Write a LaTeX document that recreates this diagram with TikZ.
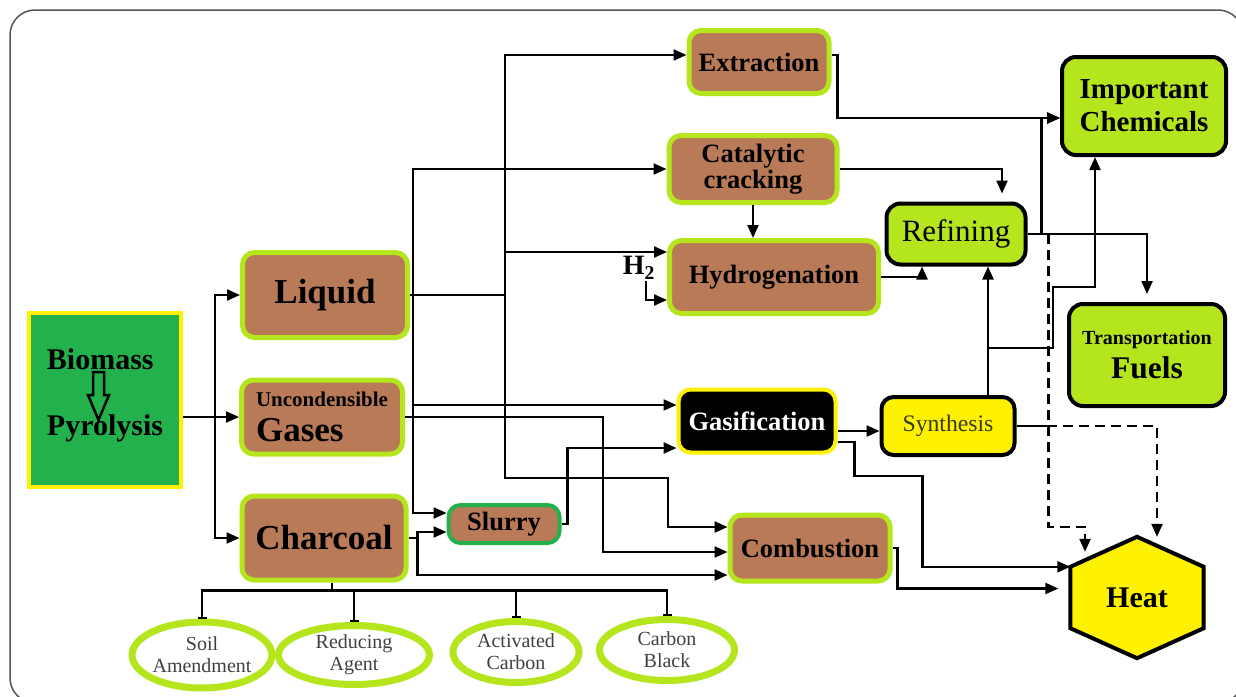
\documentclass[tikz,border=0pt]{standalone}
\usepackage{fontspec}
\setmainfont{Liberation Serif}
\usetikzlibrary{arrows.meta,shapes.geometric,backgrounds}

\definecolor{brownc}{HTML}{B97A57}
\definecolor{limec}{HTML}{B5E61D}
\definecolor{greenc}{HTML}{22B14C}
\definecolor{yellowc}{HTML}{FFF200}
\definecolor{framec}{HTML}{555555}
\definecolor{syntext}{HTML}{3A3A10}
\definecolor{usetext}{HTML}{404040}

\newcommand{\setfs}[1]{\fontsize{#1}{#1}\selectfont}

\tikzset{
  plainwire/.style={line width=2.2pt},
  wire/.style={line width=2.2pt, -{Triangle[length=13pt,width=11pt]}},
  dwire/.style={wire, dash pattern=on 10pt off 6pt},
  tee/.style={line width=2.2pt, -{Bar[width=9pt,line width=2pt]}},
  brownbox/.style={draw=limec, fill=brownc, line width=5pt, rounded corners=12pt,
    inner sep=0pt, align=center, font=\bfseries\setfs{#1}},
  limebox/.style={draw=black, fill=limec, line width=4pt, rounded corners=14pt,
    inner sep=0pt, align=center, font=\bfseries\setfs{#1}},
  procbox/.style={line width=4pt, rounded corners=12pt, inner sep=0pt, align=center},
  usebox/.style={ellipse, draw=limec, line width=7pt, inner sep=0pt, align=center,
    text=usetext, font=\fontsize{20}{22}\selectfont},
  hexa/.style={draw=black, fill=yellowc, line width=4pt, line join=miter},
}

\begin{document}
\begin{tikzpicture}[x=1pt, y=-1pt]
	% Boxes, texts and arrows:
	\useasboundingbox (0,0) rectangle (1236,696);
	\draw[framec, line width=1.5pt, rounded corners=25pt] (10,10) rectangle (1243,703);

	\node[draw=yellowc, fill=greenc, line width=4pt, minimum width=152pt, minimum height=174pt] (bio) at (105,400) {};
	\node[font=\bfseries\setfs{30}, align=left, inner sep=0pt] (biotxt) at (105,395) {Biomass\\[36pt]Pyrolysis};
	\draw[line width=2.5pt, line join=miter] (93,372) -- (104,372) -- (104,395) -- (109,395) -- (98.5,420) -- (88,395) -- (93,395) -- cycle;

	\node[brownbox=35, minimum width=165pt, minimum height=85pt] (liq) at (325,295) {Liquid};
	\node[brownbox=35, minimum width=161pt, minimum height=74pt, align=left] (gas) at (322,417) {{\setfs{21}Uncondensible}\\Gases};
	\node[brownbox=35, minimum width=164pt, minimum height=84pt] (char) at (324,538) {Charcoal};
	\node[brownbox=26.5, minimum width=140pt, minimum height=63pt] (extr) at (759,62) {Extraction};
	\node[brownbox=26.5, minimum width=168pt, minimum height=67pt] (cat) at (753,169) {Catalytic\\cracking};
	\node[brownbox=26.5, minimum width=209pt, minimum height=73pt] (hyd) at (774,277) {Hydrogenation};
	\node[brownbox=26.5, minimum width=160pt, minimum height=66pt] (comb) at (810,548) {Combustion};
	\node[brownbox=26.5, draw=greenc, line width=4pt, minimum width=111pt, minimum height=38pt] (slur) at (504,524) {Slurry};
	\node[limebox=31, font=\setfs{31}, minimum width=139pt, minimum height=61pt] (ref) at (956,234) {Refining};
	\node[limebox=29, minimum width=164pt, minimum height=98pt] (chem) at (1144,106) {Important\\[4pt]Chemicals};
	\node[limebox=31.5, minimum width=156pt, minimum height=102pt] (fuel) at (1147,355) {{\setfs{20}Transportation}\\[2.5pt]Fuels};
	\node[procbox, draw=yellowc, fill=black, text=white, font=\bfseries\setfs{26.5}, minimum width=157pt, minimum height=63pt] (gasf) at (757,421) {Gasification};
	\node[procbox, draw=black, fill=yellowc, text=syntext, font=\setfs{23.7}, minimum width=133pt, minimum height=58pt] (syn) at (948,426) {Synthesis};
	\node[font=\bfseries\setfs{30}, minimum width=133pt, minimum height=61pt, inner sep=0pt] (heat) at (1137,597.5) {Heat};
	\begin{scope}[on background layer]
		\filldraw[hexa] (heat.north west) -- ([yshift=30pt]heat.north) -- (heat.north east) -- (heat.south east) -- ([yshift=-30pt]heat.south) -- (heat.south west) -- cycle;
	\end{scope}
	\node[font=\bfseries\setfs{28}, inner sep=1pt] (htwo) at (639,268) {H\textsubscript{2}};

	\node[usebox, minimum width=133pt, minimum height=66pt] (soil) at (202,655) {Soil\\Amendment};
	\node[usebox, minimum width=151pt, minimum height=59pt] (redu) at (354,655) {Reducing\\Agent};
	\node[usebox, minimum width=126pt, minimum height=61pt] (actc) at (516,652) {Activated\\Carbon};
	\node[usebox, minimum width=135pt, minimum height=61pt] (cblk) at (667,650) {Carbon\\Black};

	\coordinate (split) at (215,417);
	\draw[plainwire] (bio.east |- gas) -- (split);
	\draw[wire] (split) -- (gas.west);
	\draw[wire] (split) |- (liq.west);
	\draw[wire] (split) |- (char.west);

	\draw[plainwire] (liq.east) -- ++(95,0) coordinate (lq2);
	\coordinate (lq1) at (413,295);
	\draw[wire] (lq1) |- (cat.west);
	\draw[wire] (lq1) |- ([yshift=16pt]gasf.west);
	\draw[wire] (lq1) |- ([yshift=11pt]slur.west);
	\draw[wire] (lq2) |- ([yshift=7pt]extr.west);
	\draw[wire] (lq2) |- ([yshift=25pt]hyd.west);
	\draw[wire] (lq2) |- (668,478) |- ([yshift=21pt]comb.west);

	\draw[wire] (gas.east) -- ++(198,0) |- ([yshift=-4pt]comb.west);

	\draw[plainwire] (char.east) -- ++(9,0) coordinate (cq);
	\draw[wire] (cq) |- ([yshift=-8pt]slur.west);
	\draw[wire] (cq) |- ([yshift=-27pt]comb.west);
	\draw[plainwire] ([xshift=8pt]char.south) -- ++(0,8) coordinate (cb);
	\draw[tee] (cb) -| (soil.north);
	\draw[tee] (cb) -| (redu.north);
	\draw[tee] (cb) -| (actc.north);
	\draw[tee] (cb) -| (cblk.north);

	\draw[wire] (slur.east) -- ++(6,0) |- ([yshift=-27pt]gasf.west);

	\draw[wire] ([yshift=7pt]extr.east) -- ++(6,0) |- ([yshift=-12pt]chem.west);
	\draw[wire, shorten >=8pt] (cat.east) -| ([xshift=46pt]ref.north);
	\draw[wire] (cat.south) -- (cat.south |- hyd.north);
	\draw[wire] (hyd.east) -| ([xshift=-34pt]ref.south);
	\draw[wire] (htwo.south east) ++(-10,0) |- ([yshift=-23pt]hyd.west);

	\draw[wire] (ref.east) -- ++(14,0) |- ([yshift=-12pt]chem.west);
	\draw[wire, shorten >=8pt] (ref.east) -| (fuel.north);
	\draw[dwire] ([xshift=21pt]ref.east) |- ([xshift=-52pt,yshift=40pt]heat.north) -- ([xshift=-52pt,yshift=15pt]heat.north);

	\draw[wire] ([yshift=-10pt]gasf.east) -- ([yshift=-10pt]gasf.east -| syn.west);
	\draw[wire] ([yshift=-21pt]gasf.east) -- ++(17,0) |- ++(68,34) |- (heat.north west);
	\draw[wire] (comb.east) -- ++(5,0) |- ([xshift=-12pt,yshift=9pt]heat.west);

	\draw[wire] ([xshift=40pt]syn.north) -- ([xshift=40pt]syn.north |- ref.south);
	\draw[wire] ([xshift=40pt,yshift=47pt]syn.north) -- ++(65,0) -- ++(0,-61) -| ([xshift=-49pt]chem.south);
	\draw[plainwire] (syn.east) -- ++(30,0) coordinate (sd);
	\draw[dwire] (sd) -| ([xshift=20pt,yshift=30pt]heat.north);
\end{tikzpicture}
\end{document}
